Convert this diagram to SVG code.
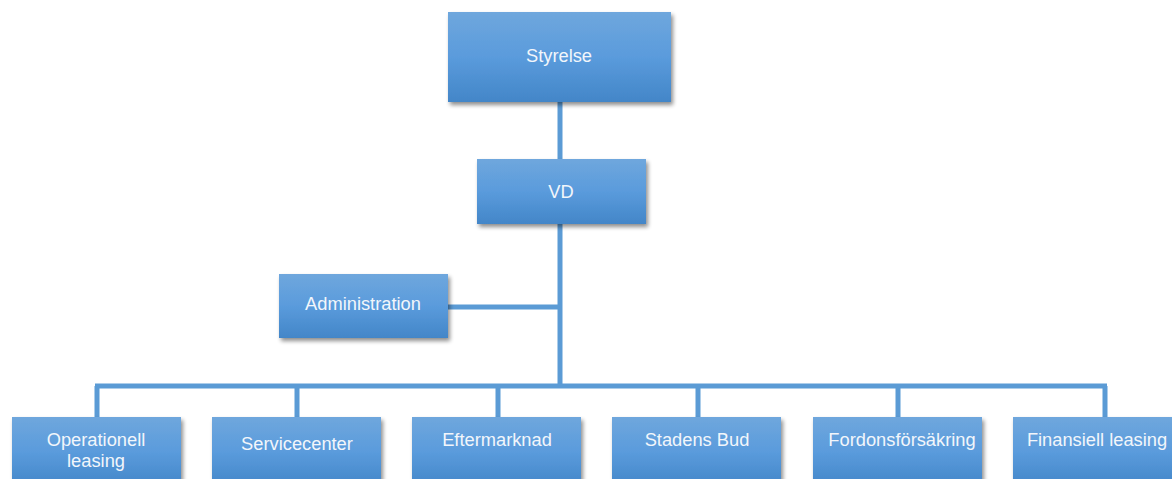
<svg xmlns="http://www.w3.org/2000/svg" width="1172" height="479" viewBox="0 0 1172 479">
<defs>
<linearGradient id="g" x1="0" y1="0" x2="0" y2="1">
<stop offset="0" stop-color="#6fa7dd"/>
<stop offset="0.5" stop-color="#5a9bdc"/>
<stop offset="1" stop-color="#4386c8"/>
</linearGradient>
<filter id="sh" x="-10%" y="-10%" width="125%" height="130%">
<feGaussianBlur in="SourceAlpha" stdDeviation="2"/>
<feOffset dx="2" dy="3" result="b"/>
<feComponentTransfer><feFuncA type="linear" slope="0.45"/></feComponentTransfer>
<feMerge><feMergeNode/><feMergeNode in="SourceGraphic"/></feMerge>
</filter>
</defs>
<style>
.box{fill:url(#g);filter:url(#sh)}
.t{font-family:"Liberation Sans",Arial,sans-serif;fill:#f2f6fb;text-anchor:middle;font-size:18.3px}
.c{stroke:#5b9bd5;stroke-width:5;fill:none}
</style>
<rect width="1172" height="479" fill="#ffffff"/>
<g id="connectors">
<path class="c" d="M560 102V386"/>
<path class="c" d="M448 307H560"/>
<path class="c" d="M95 386H1107"/>
<path class="c" d="M97 386V417M297 386V417M498 386V417M698 386V417M898 386V417M1105 386V417"/>
</g>
<g id="styrelse"><rect class="box" x="448" y="12" width="223" height="90"/><text class="t" x="559" y="62">Styrelse</text></g>
<g id="vd"><rect class="box" x="477" y="159" width="169" height="65"/><text class="t" x="561" y="198">VD</text></g>
<g id="administration"><rect class="box" x="279" y="274" width="169" height="64"/><text class="t" x="363" y="310">Administration</text></g>
<g id="operationell"><rect class="box" x="12" y="417" width="169" height="70"/><text class="t" x="96" y="446">Operationell</text><text class="t" x="96" y="467">leasing</text></g>
<g id="servicecenter"><rect class="box" x="212" y="417" width="169" height="70"/><text class="t" x="297" y="450">Servicecenter</text></g>
<g id="eftermarknad"><rect class="box" x="412" y="417" width="169" height="70"/><text class="t" x="497" y="446">Eftermarknad</text></g>
<g id="stadensbud"><rect class="box" x="612" y="417" width="169" height="70"/><text class="t" x="697" y="446">Stadens Bud</text></g>
<g id="fordonsforsakring"><rect class="box" x="813" y="417" width="169" height="70"/><text class="t" x="902" y="446">Fordonsförsäkring</text></g>
<g id="finansiell"><rect class="box" x="1013" y="417" width="169" height="70"/><text class="t" x="1097" y="446">Finansiell leasing</text></g>
</svg>
